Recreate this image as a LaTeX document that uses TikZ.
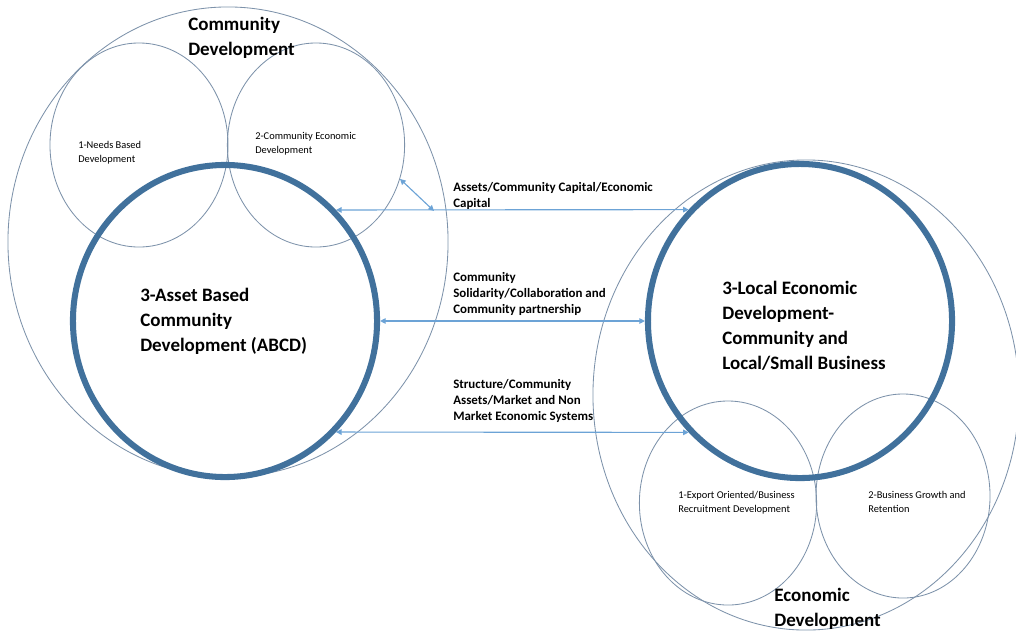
\documentclass[tikz,border=0pt]{standalone}
\usepackage{fontspec}
\setmainfont{Carlito}
\usepackage{tikz}
\usetikzlibrary{shapes.geometric, arrows.meta, positioning}
\definecolor{ring-blue}{RGB}{65,113,156}
\definecolor{zone-gray}{RGB}{125,146,170}
\definecolor{link-blue}{RGB}{108,163,214}

\begin{document}
\begin{tikzpicture}[x=0.025cm, y=-0.025cm,
	zone/.style={ellipse, draw=zone-gray, line width=0.6pt, inner sep=0pt},
	core/.style={ellipse, draw=ring-blue, line width=4.3pt, inner sep=0pt},
	link/.style={{Triangle[length=4pt,width=4pt]}-{Triangle[length=4pt,width=4pt]}, link-blue, line width=0.8pt},
	big/.style={font=\bfseries\fontsize{13.5}{17.8}\selectfont, align=left, anchor=north west, inner sep=0pt},
	mid/.style={font=\bfseries\fontsize{9.2}{11.4}\selectfont, align=left, anchor=north west, inner sep=0pt},
	small/.style={font=\fontsize{7.4}{10}\selectfont, align=left, anchor=north west, inner sep=0pt}]
							\useasboundingbox (0,0) rectangle (1016,633);
							% left side
							\node[zone, minimum width=11cm, minimum height=11.75cm] (commdev) at (228,242) {};
							\node[zone, minimum width=4.45cm, minimum height=5.1cm] (needs) at (139,145) {};
							\node[zone, minimum width=4.43cm, minimum height=5.1cm] (cedev) at (316,145) {};
							\node[core, minimum width=7.6cm, minimum height=7.8cm] (abcd) at (225,321) {};
							% right side
							\node[zone, minimum width=10.65cm, minimum height=11.75cm] (econdev) at (806,395) {};
							\node[zone, minimum width=4.43cm, minimum height=5.1cm] (export) at (728,503) {};
							\node[zone, minimum width=4.35cm, minimum height=5.1cm] (growth) at (903,496) {};
							\node[core, minimum width=7.6cm, minimum height=7.85cm] (led) at (800,321) {};
							% texts
							\node[big] (commdevlabel) at (188,17) {Community\\Development};
							\node[small] (needslabel) at (78,141) {1-Needs Based\\Development};
							\node[small] (cedevlabel) at (255,132) {2-Community Economic\\Development};
							\node[big] (abcdlabel) at (140,288) {3-Asset Based\\Community\\Development (ABCD)};
							\node[big] (ledlabel) at (722,281) {3-Local Economic\\Development-\\Community and\\Local/Small Business};
							\node[small] (exportlabel) at (678,491) {1-Export Oriented/Business\\Recruitment Development};
							\node[small] (growthlabel) at (868,491) {2-Business Growth and\\Retention};
							\node[big] (econdevlabel) at (774,588) {Economic\\Development};
							\node[mid] (capital) at (453,182) {Assets/Community Capital/Economic\\Capital};
							\node[mid] (solidarity) at (453,272) {Community\\Solidarity/Collaboration and\\Community partnership};
							\node[mid] (structure) at (453,379) {Structure/Community\\Assets/Market and Non\\Market Economic Systems};
							\coordinate (rim) at (434,211);
							\draw
							(abcd.45) edge[link] (led.135)
							(abcd.east) edge[link] (led.west)
							(abcd.-45) edge[link] (led.-135)
							(cedev.-22) edge[link] (rim);
						\end{tikzpicture}
\end{document}
